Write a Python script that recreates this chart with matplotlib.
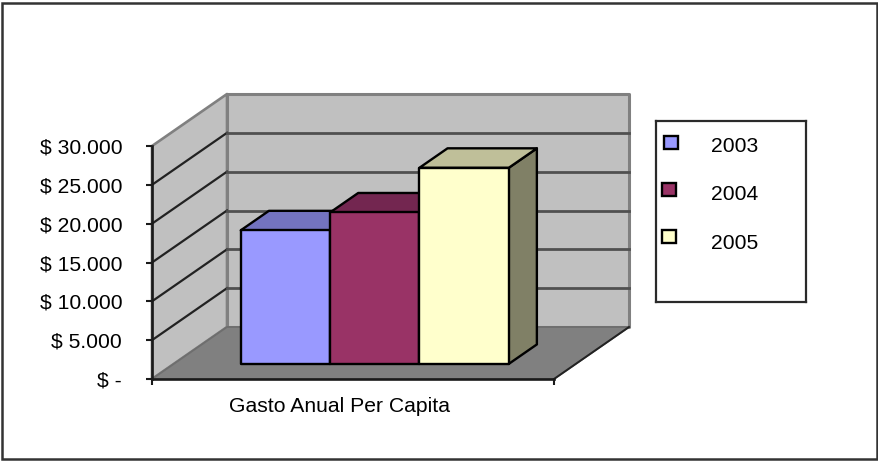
import matplotlib
matplotlib.use("Agg")
import matplotlib.pyplot as plt
from matplotlib.patches import Polygon, Rectangle

plt.rcParams['font.family'] = ['Liberation Sans', 'DejaVu Sans']

# Data
category = "Gasto Anual Per Capita"
years = ["2003", "2004", "2005"]
gasto = [17200, 19500, 25250]
tick_values = [0, 5000, 10000, 15000, 20000, 25000, 30000]
tick_labels = ["$ -", "$ 5.000", "$ 10.000", "$ 15.000", "$ 20.000", "$ 25.000", "$ 30.000"]

# Colours: front, top and side faces of each box
front = ["#9999FF", "#993366", "#FFFFCC"]
top = ["#7373BF", "#732650", "#BFBF99"]
side = ["#4D4D80", "#4D1A33", "#808066"]
WALL = "#C0C0C0"
FLOOR = "#808080"
FONT_SIZE = 15.2

W, H = 879, 462
fig = plt.figure(figsize=(W / 100, H / 100), dpi=100, facecolor="white")
fig.add_artist(Rectangle((2 / W, 3 / H), 875 / W, 456 / H, transform=fig.transFigure,
                         fill=False, ec="#333333", lw=1.8))

# Axes covering the front plane of the oblique box
AX_L, AX_R, AX_T, AX_B = 152, 554, 146, 379
ax = fig.add_axes([AX_L / W, 1 - AX_B / H, (AX_R - AX_L) / W, (AX_B - AX_T) / H])
ymax = tick_values[-1]
ax.set_xlim(0, 1)
ax.set_ylim(0, ymax)
ax.patch.set_visible(False)

# Oblique projection: depth 1 is the back wall
DEPTH_X = 75 / (AX_R - AX_L)
DEPTH_Y = 52 / (AX_B - AX_T) * ymax


def proj(x, v, d):
    return (x + d * DEPTH_X, v + d * DEPTH_Y)


def face(points, fc, ec, lw=1.7, z=1):
    ax.add_patch(Polygon([proj(*p) for p in points], closed=True, fc=fc, ec=ec, lw=lw,
                         zorder=z, clip_on=False, joinstyle="round"))


# Back wall, side wall, floor
face([(0, 0, 1), (1, 0, 1), (1, ymax, 1), (0, ymax, 1)], WALL, "#808080", 2.2)
face([(0, 0, 0), (0, 0, 1), (0, ymax, 1), (0, ymax, 0)], WALL, "#808080", 1.9)
face([(0, 0, 0), (1, 0, 0), (1, 0, 1), (0, 0, 1)], FLOOR, "#6e6e6e", 1.3, z=1.5)

# Gridlines run along the side wall and across the back wall
for v in tick_values[1:-1]:
    ax.plot(*zip(proj(0, v, 0), proj(0, v, 1)), color="#222222", lw=1.6, zorder=2, clip_on=False)
    ax.plot(*zip(proj(0, v, 1), proj(1, v, 1)), color="#505050", lw=2.0, zorder=2, clip_on=False)
ax.plot(*zip(proj(1, 0, 0), proj(1, 0, 1)), color="#222222", lw=1.4, zorder=2, clip_on=False)

# Boxes, drawn left to right so each one hides the neighbour's side
n = len(years)
bar_w = (2 / 3) / n
d0, d1 = 0.29, 0.665
for i, value in enumerate(gasto):
    x0 = 1 / 6 + i * bar_w
    x1 = x0 + bar_w
    z = 3 + i
    face([(x1, 0, d0), (x1, 0, d1), (x1, value, d1), (x1, value, d0)], side[i], "black", z=z)
    face([(x0, value, d0), (x1, value, d0), (x1, value, d1), (x0, value, d1)], top[i], "black", z=z)
    face([(x0, 0, d0), (x1, 0, d0), (x1, value, d0), (x0, value, d0)], front[i], "black", z=z)

# Axis lines, ticks and labels
for s in ("top", "right"):
    ax.spines[s].set_visible(False)
for s in ("left", "bottom"):
    ax.spines[s].set_linewidth(1.9)
    ax.spines[s].set_color("#1a1a1a")
    ax.spines[s].set_zorder(8)
ax.set_yticks(tick_values, tick_labels, fontsize=FONT_SIZE, color="black")
ax.tick_params(axis="y", length=4.5, width=1.5, pad=17, color="#1a1a1a")
ax.set_xticks([0, 1], minor=True)
ax.tick_params(axis="x", which="minor", length=4.5, width=1.5, color="#1a1a1a")
ax.set_xticks([(340 - AX_L) / (AX_R - AX_L)], [category], fontsize=FONT_SIZE, color="black")
ax.tick_params(axis="x", which="major", length=0, pad=13)

# Legend box with keys and year labels, in its own pixel-scaled axes
L_L, L_R, L_T, L_B = 656, 806, 121, 302
lg = fig.add_axes([L_L / W, 1 - L_B / H, (L_R - L_L) / W, (L_B - L_T) / H])
lg.set_xlim(L_L, L_R)
lg.set_ylim(L_B, L_T)
lg.set_xticks([])
lg.set_yticks([])
for s in lg.spines.values():
    s.set_linewidth(1.6)
    s.set_color("#2a2a2a")
key_x = [664.5, 662.5, 662.5]
key_y = [135.5, 182.5, 230.5]
for i, year in enumerate(years):
    lg.add_patch(Rectangle((key_x[i], key_y[i]), 14, 13, fc=front[i], ec="black", lw=1.7))
    lg.text(711, 146.5 + 48.5 * i, year, fontsize=FONT_SIZE, va="center", ha="left", color="black")

fig.savefig("out.png", dpi=100)
